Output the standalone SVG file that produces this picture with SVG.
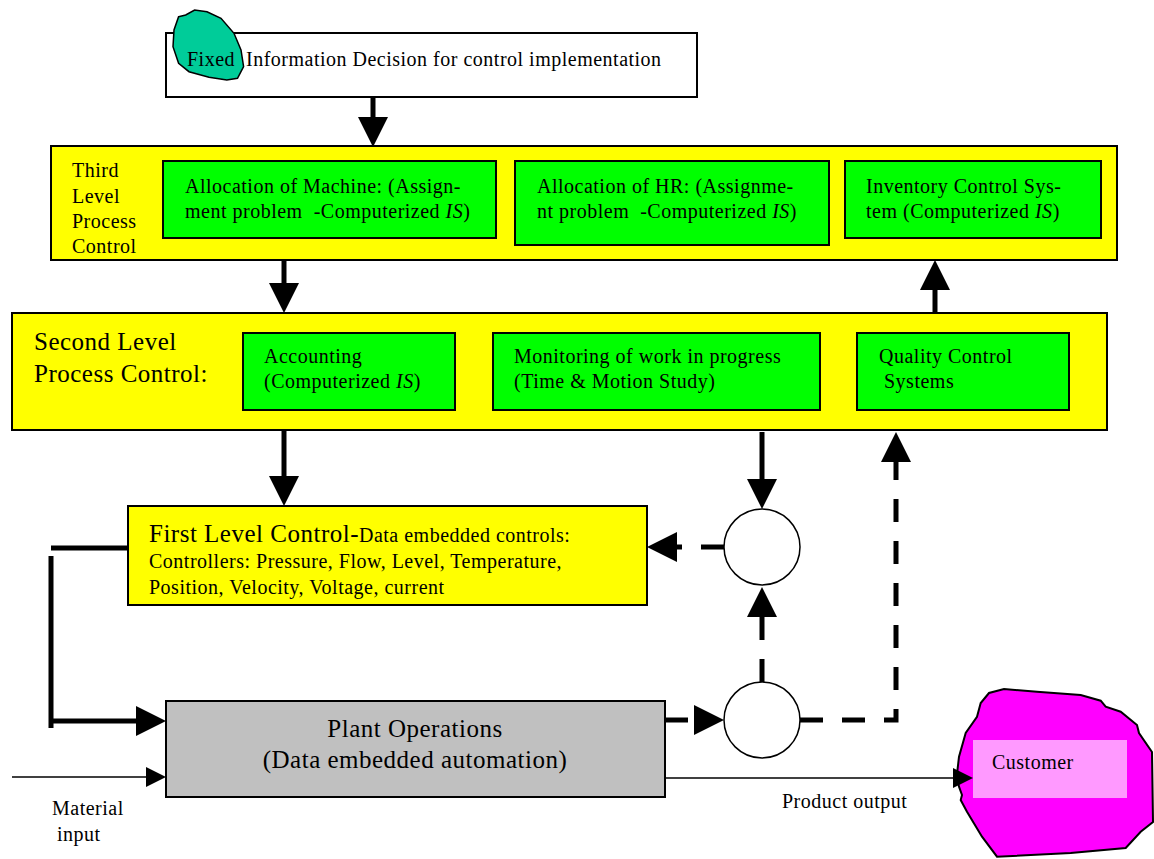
<svg xmlns="http://www.w3.org/2000/svg" width="1154" height="859" viewBox="0 0 1154 859">
<style>
  text { font-family: "Liberation Serif", "Times New Roman", serif; fill: #000; }
  .t { font-size: 20px; letter-spacing: 0.5px; }
  .big { font-size: 25px; letter-spacing: 0.5px; }
  .box { stroke: #000; stroke-width: 2; }
  .yel { fill: #FFFF00; }
  .grn { fill: #00FF00; }
  .thick { fill: none; stroke: #000; stroke-width: 5; }
  .dash { fill: none; stroke: #000; stroke-width: 5; stroke-dasharray: 23 19; }
  .thin { fill: none; stroke: #000; stroke-width: 1.5; }
</style>
<defs>
  <marker id="ah" markerUnits="userSpaceOnUse" markerWidth="30" markerHeight="30" refX="10" refY="15" orient="auto">
    <path d="M0,0 L30,15 L0,30 Z" fill="#000"/>
  </marker>
  <marker id="ahs" markerUnits="userSpaceOnUse" markerWidth="20" markerHeight="20" refX="5" refY="10" orient="auto">
    <path d="M0,0 L20,10 L0,20 Z" fill="#000"/>
  </marker>
</defs>
<rect width="1154" height="859" fill="#fff"/>

<g id="top-decision">
  <rect x="166" y="33" width="531" height="64" fill="#fff" class="box"/>
  <path d="M178.6,16.7 L185.7,15 L194.6,10 L207,11.7 L221,18.3 L234,33.3 L241,50 L243.6,66.7 L237.5,78.3 L226.8,80 L209,77.3 L189,71.7 L178.6,63.3 L173,46.7 L174,30 Z" fill="#00CC99" stroke="#000" stroke-width="1.5"/>
  <text class="t" x="187" y="66">Fixed</text>
  <text class="t" x="246" y="66">Information Decision for control implementation</text>
</g>

<g id="third-level">
  <rect x="51" y="146" width="1066" height="114" class="box yel"/>
  <text class="t" x="72" y="177">Third</text>
  <text class="t" x="72" y="203">Level</text>
  <text class="t" x="72" y="228">Process</text>
  <text class="t" x="72" y="253">Control</text>
</g>
<g id="alloc-machine">
  <rect x="163" y="161" width="333" height="77" class="box grn"/>
  <text class="t" x="185" y="193" xml:space="preserve">Allocation of Machine: (Assign-</text>
  <text class="t" x="185" y="218" xml:space="preserve">ment problem  -Computerized <tspan font-style="italic">IS</tspan>)</text>
</g>
<g id="alloc-hr">
  <rect x="515" y="161" width="314" height="84" class="box grn"/>
  <text class="t" x="537" y="193" xml:space="preserve">Allocation of HR: (Assignme-</text>
  <text class="t" x="537" y="218" xml:space="preserve">nt problem  -Computerized <tspan font-style="italic">IS</tspan>)</text>
</g>
<g id="inventory">
  <rect x="845" y="161" width="256" height="77" class="box grn"/>
  <text class="t" x="866" y="193">Inventory Control Sys-</text>
  <text class="t" x="866" y="218">tem (Computerized <tspan font-style="italic">IS</tspan>)</text>
</g>

<g id="second-level">
  <rect x="12" y="313" width="1095" height="117" class="box yel"/>
  <text class="big" x="34" y="350">Second Level</text>
  <text class="big" x="34" y="382">Process Control:</text>
</g>
<g id="accounting">
  <rect x="243" y="333" width="212" height="77" class="box grn"/>
  <text class="t" x="264" y="363">Accounting</text>
  <text class="t" x="264" y="388">(Computerized <tspan font-style="italic">IS</tspan>)</text>
</g>
<g id="monitoring">
  <rect x="493" y="333" width="327" height="77" class="box grn"/>
  <text class="t" x="514" y="363">Monitoring of work in progress</text>
  <text class="t" x="514" y="388">(Time &amp; Motion Study)</text>
</g>
<g id="quality">
  <rect x="857" y="333" width="212" height="77" class="box grn"/>
  <text class="t" x="879" y="363">Quality Control</text>
  <text class="t" x="884" y="388">Systems</text>
</g>

<g id="first-level">
  <rect x="128" y="506" width="519" height="99" class="box yel"/>
  <text x="149" y="542"><tspan class="big">First Level Control-</tspan><tspan class="t">Data embedded controls:</tspan></text>
  <text class="t" x="149" y="568">Controllers: Pressure, Flow, Level, Temperature,</text>
  <text class="t" x="149" y="594">Position, Velocity, Voltage, current</text>
</g>

<g id="compare-1">
  <circle cx="762" cy="547" r="38" fill="#fff" stroke="#000" stroke-width="1.5"/>
</g>
<g id="compare-2">
  <circle cx="762" cy="720" r="38" fill="#fff" stroke="#000" stroke-width="1.5"/>
</g>

<g id="plant">
  <rect x="166" y="701" width="499" height="96" fill="#C0C0C0" class="box"/>
  <text class="big" x="415" y="737" text-anchor="middle">Plant Operations</text>
  <text class="big" x="415" y="768" text-anchor="middle">(Data embedded automation)</text>
</g>

<g id="customer">
  <path d="M956.7,776.7 L959,756.7 L965.7,733 L977,716.7 L980.7,703 L989,693 L1004,689 L1037,691.7 L1080.7,695 L1100.7,700.7 L1105.7,706.7 L1120.7,711.7 L1137,725 L1139,733 L1152,752 L1153,822 L1140.7,831.7 L1125.7,848 L1070.7,853 L997,856.7 L982,836.7 L967,811.7 L960.7,800 L962,795 L959,786.7 Z" fill="#FF00FF" stroke="#000" stroke-width="2"/>
  <rect x="973" y="740" width="154" height="58" fill="#FF99FF"/>
  <text class="t" x="992" y="769">Customer</text>
</g>

<g id="labels">
  <text class="t" x="52" y="815">Material</text>
  <text class="t" x="57" y="841">input</text>
  <text class="t" x="782" y="808">Product output</text>
</g>

<g id="connectors">
  <path class="thick" d="M373,97 V127" marker-end="url(#ah)"/>
  <path class="thick" d="M284,260 V293" marker-end="url(#ah)"/>
  <path class="thick" d="M935,313 V280" marker-end="url(#ah)"/>
  <path class="thick" d="M284,431 V486" marker-end="url(#ah)"/>
  <path class="thick" d="M762,432 V489" marker-end="url(#ah)"/>
  <path class="dash" d="M724,547 H667" marker-end="url(#ah)"/>
  <path class="dash" d="M762,682 V607" marker-end="url(#ah)"/>
  <path class="dash" d="M665,720 H704" marker-end="url(#ah)"/>
  <path class="dash" d="M800,720 H896 V452" marker-end="url(#ah)"/>
  <path class="thick" d="M128,548 H51"/>
  <path class="thick" d="M51,556 V728"/>
  <path class="thick" d="M51,721 H146" marker-end="url(#ah)"/>
  <path class="thin" d="M12,777 H151" marker-end="url(#ahs)"/>
  <path class="thin" d="M665,778 H958" marker-end="url(#ahs)"/>
</g>
</svg>
